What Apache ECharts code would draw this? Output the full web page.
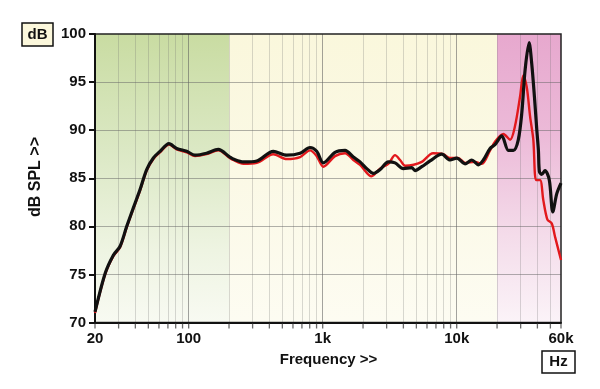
<!DOCTYPE html>
<html><head><meta charset="utf-8">
<script src="https://cdn.jsdelivr.net/npm/echarts@6/dist/echarts.min.js"></script>
<style>html,body{margin:0;padding:0;background:#fff}#c{width:600px;height:389px}</style>
</head><body><div id="c"></div>
<script>
// Frequency (Hz) / level (dB SPL)
const blackFreq = [20,23.8,27.4,30.7,34.5,38.6,43.3,48.6,54.5,61.1,
  71.3,81.4,96.7,111.5,136,166,203,215,256,322,
  428,539,678,804,902,1011,1236,1468,1693,1900,
  2132,2388,2680,3090,3467,3997,4618,4886,5484,6324,
  7730,8918,10000,11536,12948,14500,15800,17740,19300,21700,
  24300,26500,28800,30600,32400,34700,36300,38000,39600,40700,
  41400,43000,45600,49100,52100,55800,60000];
const blackDb = [71.1,75.1,77.0,77.9,80.0,81.9,83.8,85.9,87.1,87.8,
  88.6,88.1,87.8,87.4,87.6,88.0,87.2,87.0,86.7,86.8,
  87.8,87.4,87.6,88.2,87.8,86.6,87.7,87.9,87.2,86.7,
  86.0,85.5,85.9,86.7,86.6,86.0,86.1,85.8,86.2,86.8,
  87.5,86.9,87.1,86.5,86.9,86.4,86.9,88.1,88.5,89.4,
  87.9,87.9,89.0,91.8,96.3,99.1,96.9,93.5,90.0,87.9,
  85.7,85.4,85.8,84.8,81.5,83.4,84.5];
const redFreq = [20,23.8,27.4,30.7,34.5,38.6,43.3,48.6,54.5,61.1,
  71.3,81.4,96.7,111.5,136,166,203,215,256,322,
  428,539,678,804,902,1011,1236,1468,1693,1900,
  2316,2680,3090,3467,3781,4130,4770,5484,6660,7950,
  8918,10250,11536,13700,15400,17740,19300,22300,25000,27200,
  29700,31400,33300,35300,37300,39100,41900,44300,47500,51200,
  54200,60000];
const redDb = [71.0,75.0,76.9,77.8,79.9,81.8,83.7,85.8,87.0,87.7,
  88.5,88.0,87.7,87.3,87.5,87.9,87.1,86.9,86.5,86.6,
  87.5,87.0,87.2,87.9,87.3,86.2,87.3,87.6,86.9,86.4,
  85.2,86.0,86.5,87.4,86.9,86.3,86.4,86.7,87.6,87.5,
  87.1,87.1,86.6,86.7,86.5,87.9,88.8,89.6,89.0,90.4,
  93.5,95.7,94.5,91.4,89.0,84.8,84.8,82.7,80.7,80.3,
  78.9,76.5];
const yTicks = [70,75,80,85,90,95,100];
const bandEdges = [20,200,20000,60000];
const minorFreqs = [30,40,50,60,70,80,90,200,300,400,500,600,700,800,900,
  2000,3000,4000,5000,6000,7000,8000,9000,20000,30000,40000,50000];
const majorFreqs = [100,1000,10000];
const tickFreqs = [20,30,40,50,60,70,80,90,100,200,300,400,500,600,700,800,900,1000,
  2000,3000,4000,5000,6000,7000,8000,9000,10000,20000,30000,40000,50000,60000];

const zip = (a, b) => a.map((v, i) => [v, b[i]]);
const font = '"Liberation Sans", Arial, sans-serif';
function grad(stops){ return new echarts.graphic.LinearGradient(0,0,0,1,stops.map(s=>({offset:s[0],color:s[1]}))); }
function fmt(v){ const r = Math.round(v); return r >= 1000 ? (Math.round(r/1000)) + 'k' : String(r); }

const bandColors = [
  grad([[0,'#c9dca2'],[0.4,'#dbe8c4'],[0.75,'#eef4e2'],[1,'#f8faf2']]),
  grad([[0,'#faf7dc'],[0.5,'#fbf9e6'],[1,'#fdfcf2']]),
  grad([[0,'#e7a8ce'],[0.35,'#ecbad8'],[0.7,'#f4dcea'],[1,'#fbf3f8']])
];

const chart = echarts.init(document.getElementById('c'));
chart.setOption({
  animation: false,
  backgroundColor: '#fff',
  grid: { left: 95, right: 39, top: 34, bottom: 66.5, show: true, borderColor: '#222', borderWidth: 1.5, z: 6 },
  xAxis: {
    type: 'log', logBase: 10, min: 20, max: 60000, z: 6,
    axisLine: { show: true, lineStyle: { color: '#111', width: 2 } },
    axisTick: { show: false },
    splitLine: { show: false },
    axisLabel: { formatter: fmt, color: '#111', fontWeight: 'bold', fontSize: 15, fontFamily: font, margin: 9, showMinLabel: true, showMaxLabel: true }
  },
  yAxis: {
    type: 'value', min: 70, max: 100, interval: 5, z: 6,
    axisLine: { show: true, lineStyle: { color: '#111', width: 2 } },
    axisTick: { show: true, length: 6, lineStyle: { color: '#111', width: 2 } },
    splitLine: { show: false },
    axisLabel: { color: '#111', fontWeight: 'bold', fontSize: 15, fontFamily: font, margin: 9 }
  },
  series: [
    {
      type: 'line', data: [], z: 1, silent: true,
      markArea: {
        silent: true,
        data: bandColors.map((c, i) => [{ xAxis: bandEdges[i], itemStyle: { color: c } }, { xAxis: bandEdges[i+1] }])
      },
      markLine: {
        silent: true, symbol: ['none','none'], label: { show: false },
        data: [].concat(
          minorFreqs.map(f => ({ xAxis: f, lineStyle: { color: 'rgba(110,110,110,0.26)', width: 1, type: 'solid' } })),
          majorFreqs.map(f => ({ xAxis: f, lineStyle: { color: 'rgba(90,90,90,0.55)', width: 1, type: 'solid' } })),
          yTicks.slice(1, -1).map(v => ({ yAxis: v, lineStyle: { color: 'rgba(100,100,100,0.5)', width: 1, type: 'solid' } }))
        )
      }
    },
    {
      type: 'scatter', data: tickFreqs.map(f => [f, 70]), z: 6, clip: false, silent: true,
      symbol: 'rect', symbolSize: [1.3, 5], symbolOffset: [0, 3.5],
      itemStyle: { color: '#444' }
    },
    {
      type: 'line', data: zip(redFreq, redDb), z: 10, showSymbol: false, smooth: 0.3,
      lineStyle: { color: '#e2181c', width: 2.4 }
    },
    {
      type: 'line', data: zip(blackFreq, blackDb), z: 11, showSymbol: false, smooth: 0.3,
      lineStyle: { color: '#111', width: 3.2 }
    }
  ],
  graphic: [
    { type: 'rect', shape: { x: 22, y: 23, width: 31, height: 23 }, style: { fill: '#fcf8dc', stroke: '#111', lineWidth: 1.5 } },
    { type: 'text', x: 37.5, y: 34.5, style: { text: 'dB', font: 'bold 15px ' + font, fill: '#111', align: 'center', verticalAlign: 'middle' } },
    { type: 'rect', shape: { x: 542, y: 351, width: 33, height: 22 }, style: { fill: '#fff', stroke: '#111', lineWidth: 1.5 } },
    { type: 'text', x: 558.5, y: 362, style: { text: 'Hz', font: 'bold 15px ' + font, fill: '#111', align: 'center', verticalAlign: 'middle' } },
    { type: 'text', x: 328.5, y: 360, style: { text: 'Frequency >>', font: 'bold 15px ' + font, fill: '#111', align: 'center', verticalAlign: 'middle' } },
    { type: 'text', x: 36, y: 177, rotation: Math.PI / 2, style: { text: 'dB SPL >>', font: 'bold 16px ' + font, fill: '#111', align: 'center', verticalAlign: 'middle' } }
  ]
});
</script>
</body></html>
